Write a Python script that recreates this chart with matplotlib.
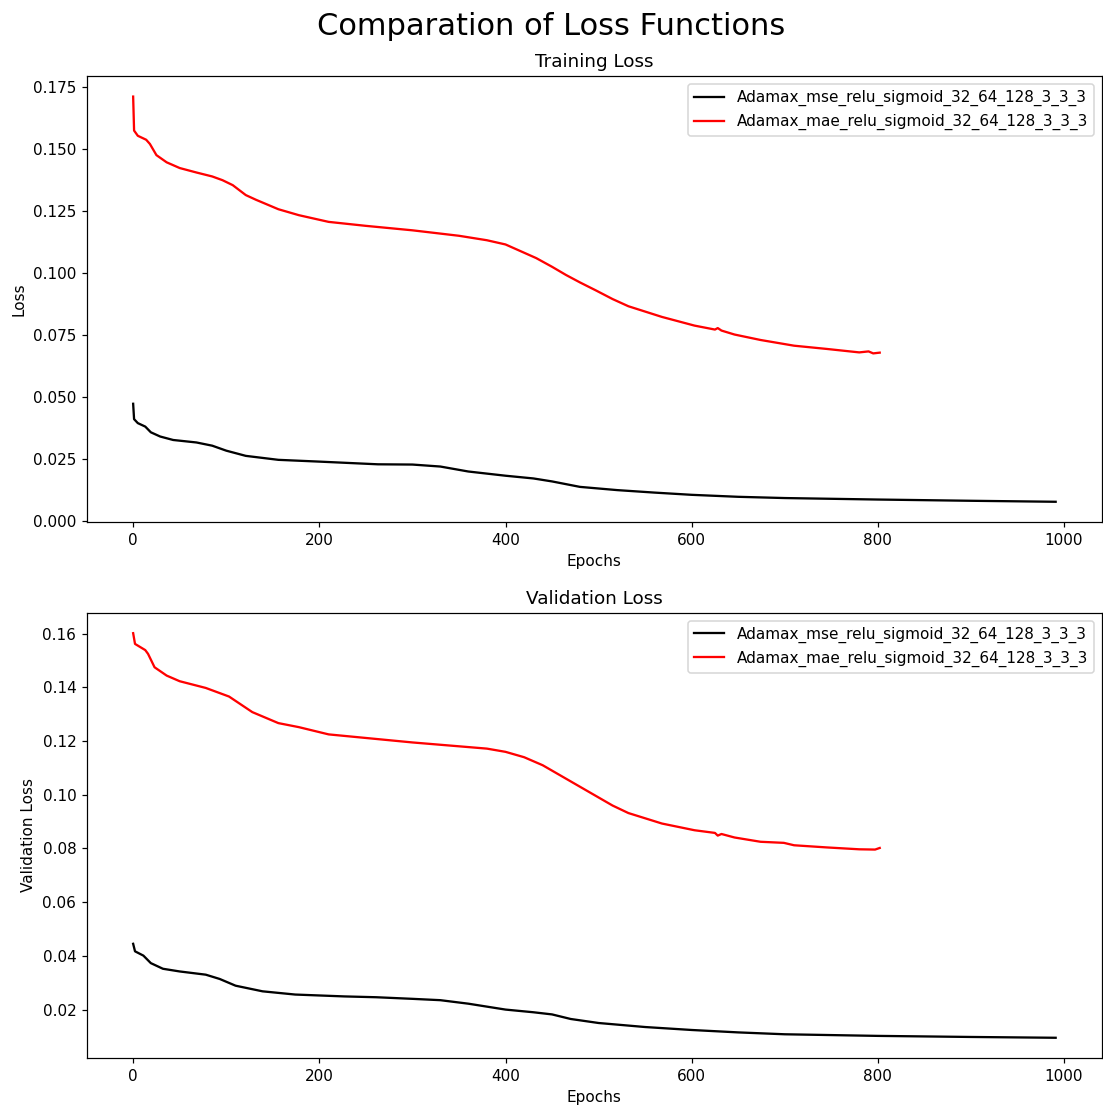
import matplotlib.pyplot as plt
from matplotlib.ticker import MultipleLocator

# Training loss
train_mse_epochs = [0, 1, 5, 13, 19, 29, 43, 68, 85, 100, 121, 156, 199, 263, 300, 330, 360,
                    400, 430, 450, 480, 520, 560, 600, 650, 700, 800, 900, 991]
train_mse = [0.0473, 0.0411, 0.0395, 0.0381, 0.0358, 0.0341, 0.0327, 0.0317, 0.0304, 0.0284,
             0.0263, 0.0247, 0.0240, 0.0229, 0.0228, 0.0220, 0.0200, 0.0183, 0.0172, 0.0160,
             0.0138, 0.0125, 0.0115, 0.0106, 0.0098, 0.0093, 0.0087, 0.0082, 0.0078]

train_mae_epochs = [0, 1, 5, 14, 18, 25, 36, 50, 68, 85, 96, 107, 121, 132, 156, 178, 210, 250,
                    300, 350, 380, 400, 415, 433, 450, 465, 480, 497, 515, 532, 568, 603, 625,
                    628, 632, 646, 674, 710, 745, 780, 790, 795, 802]
train_mae = [0.1711, 0.1574, 0.1553, 0.1537, 0.1520, 0.1475, 0.1446, 0.1423, 0.1405, 0.1389,
             0.1374, 0.1354, 0.1314, 0.1295, 0.1257, 0.1233, 0.1206, 0.1190, 0.1172, 0.1150,
             0.1132, 0.1115, 0.1090, 0.1060, 0.1025, 0.0992, 0.0962, 0.0930, 0.0895, 0.0866,
             0.0823, 0.0788, 0.0772, 0.0778, 0.0768, 0.0752, 0.0730, 0.0707, 0.0694, 0.0680,
             0.0684, 0.0676, 0.0679]

# Validation loss
val_mse_epochs = [0, 2, 11, 19, 32, 50, 78, 93, 110, 139, 174, 227, 261, 300, 330, 360, 400,
                  430, 450, 470, 500, 550, 600, 650, 700, 800, 900, 991]
val_mse = [0.0445, 0.0417, 0.0401, 0.0373, 0.0352, 0.0342, 0.0330, 0.0314, 0.0289, 0.0268,
           0.0256, 0.0249, 0.0246, 0.0240, 0.0235, 0.0222, 0.0200, 0.0190, 0.0182, 0.0165,
           0.0150, 0.0135, 0.0124, 0.0115, 0.0108, 0.0102, 0.0098, 0.0095]

val_mae_epochs = [0, 2, 13, 16, 23, 36, 50, 78, 103, 128, 156, 178, 210, 300, 380, 400, 420,
                  440, 460, 480, 500, 515, 532, 568, 603, 625, 628, 632, 646, 674, 699, 710,
                  745, 780, 797, 802]
val_mae = [0.1602, 0.1562, 0.1539, 0.1525, 0.1475, 0.1444, 0.1423, 0.1398, 0.1366, 0.1308,
           0.1267, 0.1252, 0.1225, 0.1195, 0.1172, 0.1160, 0.1140, 0.1110, 0.1070, 0.1030,
           0.0990, 0.0960, 0.0932, 0.0893, 0.0868, 0.0858, 0.0848, 0.0854, 0.0841, 0.0825,
           0.0821, 0.0812, 0.0804, 0.0797, 0.0796, 0.0802]

labels = ['Adamax_mse_relu_sigmoid_32_64_128_3_3_3', 'Adamax_mae_relu_sigmoid_32_64_128_3_3_3']

fig = plt.figure(figsize=(1103 / 110, 1106 / 110), dpi=110)
ax1 = fig.add_axes([0.0789, 0.528, 0.920, 0.403])
ax2 = fig.add_axes([0.0789, 0.0434, 0.920, 0.4024])

ax1.plot(train_mse_epochs, train_mse, color='black', label=labels[0])
ax1.plot(train_mae_epochs, train_mae, color='red', label=labels[1])
ax1.yaxis.set_major_locator(MultipleLocator(0.025))
ax1.set_title('Training Loss')
ax1.set_xlabel('Epochs')
ax1.set_ylabel('Loss')
ax1.legend(loc='upper right')

ax2.plot(val_mse_epochs, val_mse, color='black', label=labels[0])
ax2.plot(val_mae_epochs, val_mae, color='red', label=labels[1])
ax2.set_title('Validation Loss')
ax2.set_xlabel('Epochs')
ax2.set_ylabel('Validation Loss')
ax2.legend(loc='upper right')

fig.suptitle('Comparation of Loss Functions', fontsize=20, y=0.976, va='center')

fig.savefig('out.png', dpi=110)
